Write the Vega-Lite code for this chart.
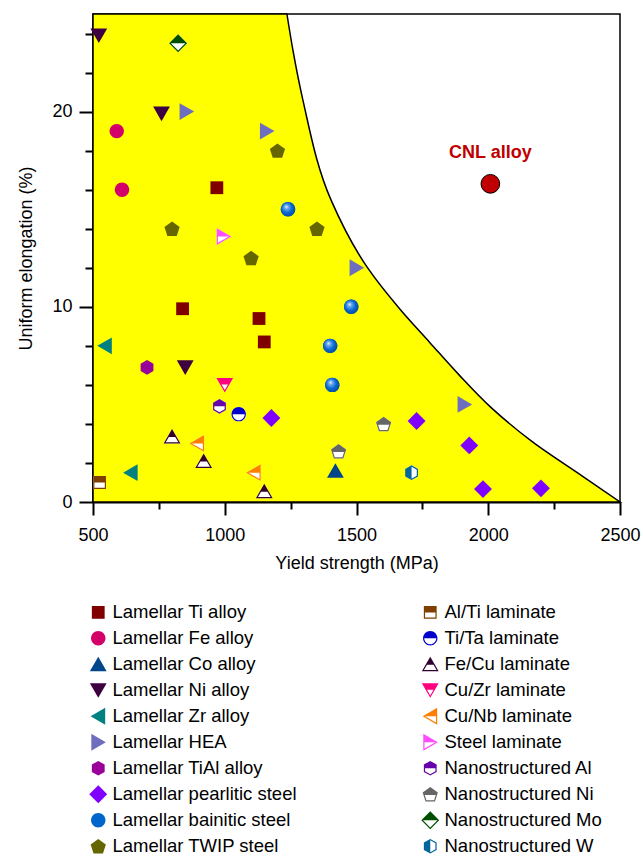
{
  "$schema": "https://vega.github.io/schema/vega-lite/v6.json",
  "width": 527,
  "height": 488,
  "autosize": {"type": "none"},
  "padding": {"left": 93, "top": 14, "right": 23, "bottom": 354},
  "background": "white",
  "config": {
    "font": "Liberation Sans",
    "view": {"stroke": "black", "strokeWidth": 1.5},
    "axis": {
      "domainColor": "black", "domainWidth": 2, "tickColor": "black", "tickWidth": 2,
      "labelColor": "black", "titleColor": "black", "labelFontSize": 18, "titleFontSize": 18,
      "titleFontWeight": "normal", "grid": false, "labelFlush": false
    }
  },
  "datasets": {
    "curve": [
      {"x": 1236, "y": 25}, {"x": 1259, "y": 23.12}, {"x": 1297, "y": 20.56},
      {"x": 1404, "y": 15.45}, {"x": 1543, "y": 11.98}, {"x": 1670, "y": 9.8},
      {"x": 1777, "y": 8.19}, {"x": 1890, "y": 6.5}, {"x": 2010, "y": 4.85},
      {"x": 2168, "y": 3.08}, {"x": 2357, "y": 1.33}, {"x": 2500, "y": 0}
    ],
    "points": [
      {"series": "Lamellar Ti alloy", "x": 970, "y": 16.1},
      {"series": "Lamellar Ti alloy", "x": 840, "y": 9.9},
      {"series": "Lamellar Ti alloy", "x": 1130, "y": 9.4},
      {"series": "Lamellar Ti alloy", "x": 1150, "y": 8.2},
      {"series": "Lamellar Fe alloy", "x": 590, "y": 19},
      {"series": "Lamellar Fe alloy", "x": 610, "y": 16},
      {"series": "Lamellar Co alloy", "x": 1420, "y": 1.6},
      {"series": "Lamellar Ni alloy", "x": 522, "y": 23.9},
      {"series": "Lamellar Ni alloy", "x": 760, "y": 19.9},
      {"series": "Lamellar Ni alloy", "x": 850, "y": 6.9},
      {"series": "Lamellar Zr alloy", "x": 545, "y": 8},
      {"series": "Lamellar Zr alloy", "x": 643, "y": 1.5},
      {"series": "Lamellar HEA", "x": 855, "y": 20},
      {"series": "Lamellar HEA", "x": 1160, "y": 19},
      {"series": "Lamellar HEA", "x": 1500, "y": 12},
      {"series": "Lamellar HEA", "x": 1910, "y": 5},
      {"series": "Lamellar TiAl alloy", "x": 705, "y": 6.9},
      {"series": "Lamellar pearlitic steel", "x": 1177, "y": 4.3},
      {"series": "Lamellar pearlitic steel", "x": 1728, "y": 4.15},
      {"series": "Lamellar pearlitic steel", "x": 1928, "y": 2.9},
      {"series": "Lamellar pearlitic steel", "x": 1980, "y": 0.66},
      {"series": "Lamellar pearlitic steel", "x": 2200, "y": 0.7},
      {"series": "Lamellar bainitic steel", "x": 1240, "y": 15},
      {"series": "Lamellar bainitic steel", "x": 1480, "y": 10},
      {"series": "Lamellar bainitic steel", "x": 1400, "y": 8},
      {"series": "Lamellar bainitic steel", "x": 1408, "y": 6},
      {"series": "Lamellar TWIP steel", "x": 1200, "y": 18},
      {"series": "Lamellar TWIP steel", "x": 800, "y": 14},
      {"series": "Lamellar TWIP steel", "x": 1100, "y": 12.5},
      {"series": "Lamellar TWIP steel", "x": 1350, "y": 14},
      {"series": "Al/Ti laminate", "x": 525, "y": 1},
      {"series": "Ti/Ta laminate", "x": 1053, "y": 4.5},
      {"series": "Fe/Cu laminate", "x": 800, "y": 3.35},
      {"series": "Fe/Cu laminate", "x": 920, "y": 2.1},
      {"series": "Fe/Cu laminate", "x": 1150, "y": 0.55},
      {"series": "Cu/Zr laminate", "x": 1000, "y": 6},
      {"series": "Cu/Nb laminate", "x": 895, "y": 3},
      {"series": "Cu/Nb laminate", "x": 1110, "y": 1.5},
      {"series": "Steel laminate", "x": 996, "y": 13.6},
      {"series": "Nanostructured Al", "x": 980, "y": 4.9},
      {"series": "Nanostructured Ni", "x": 1603, "y": 4},
      {"series": "Nanostructured Ni", "x": 1432, "y": 2.6},
      {"series": "Nanostructured Mo", "x": 823, "y": 23.5},
      {"series": "Nanostructured W", "x": 1709, "y": 1.5}
    ],
    "cnl": [{"x": 2008, "y": 16.3, "label": "CNL alloy"}]
  },
  "encoding": {
    "x": {
      "field": "x", "type": "quantitative",
      "scale": {"domain": [500, 2500], "nice": false, "zero": false},
      "axis": {
        "title": "Yield strength (MPa)",
        "values": [500, 750, 1000, 1250, 1500, 1750, 2000, 2250, 2500],
        "labelExpr": "datum.value % 500 === 0 ? datum.label : ''",
        "tickSize": {"condition": {"test": "datum.value % 500 === 0", "value": 13}, "value": 7},
        "labelPadding": 11, "titlePadding": 10, "format": "d"
      }
    },
    "y": {
      "field": "y", "type": "quantitative",
      "scale": {"domain": [0, 25], "nice": false},
      "axis": {
        "title": "Uniform elongation (%)",
        "values": [0, 2, 4, 6, 8, 10, 12, 14, 16, 18, 20, 22, 24],
        "labelExpr": "datum.value % 10 === 0 ? datum.label : ''",
        "tickSize": {"condition": {"test": "datum.value % 10 === 0", "value": 14}, "value": 8},
        "labelPadding": 7, "titlePadding": 16
      }
    }
  },
  "layer": [
    {
      "data": {"name": "curve"},
      "mark": {"type": "area", "orient": "horizontal", "interpolate": "monotone", "fill": "#ffff00", "stroke": "black", "strokeWidth": 1.5, "opacity": 1},
      "encoding": {"x2": {"datum": 500}}
    },
    {
      "data": {"name": "points"},
      "transform": [{"filter": "datum.series === 'Al/Ti laminate'"}],
      "mark": {"type": "point", "filled": true, "color": "white", "opacity": 1, "size": 256, "strokeWidth": 0, "shape": "M-0.8,-0.8L0.8,-0.8L0.8,0.8L-0.8,0.8Z"}
    },
    {
      "data": {"name": "points"},
      "transform": [{"filter": "datum.series === 'Ti/Ta laminate'"}],
      "mark": {"type": "point", "filled": true, "color": "white", "opacity": 1, "size": 256, "strokeWidth": 0, "shape": "M0,-0.9A0.9,0.9,0,1,1,0,0.9A0.9,0.9,0,1,1,0,-0.9Z"}
    },
    {
      "data": {"name": "points"},
      "transform": [{"filter": "datum.series === 'Fe/Cu laminate'"}],
      "mark": {"type": "point", "filled": true, "color": "white", "opacity": 1, "size": 256, "strokeWidth": 0, "shape": "M0,-0.95L1.05,0.87L-1.05,0.87Z"}
    },
    {
      "data": {"name": "points"},
      "transform": [{"filter": "datum.series === 'Cu/Zr laminate'"}],
      "mark": {"type": "point", "filled": true, "color": "white", "opacity": 1, "size": 256, "strokeWidth": 0, "shape": "M-1.05,-0.87L1.05,-0.87L0,0.95Z"}
    },
    {
      "data": {"name": "points"},
      "transform": [{"filter": "datum.series === 'Cu/Nb laminate'"}],
      "mark": {"type": "point", "filled": true, "color": "white", "opacity": 1, "size": 256, "strokeWidth": 0, "shape": "M-0.95,0L0.87,-1.05L0.87,1.05Z"}
    },
    {
      "data": {"name": "points"},
      "transform": [{"filter": "datum.series === 'Steel laminate'"}],
      "mark": {"type": "point", "filled": true, "color": "white", "opacity": 1, "size": 256, "strokeWidth": 0, "shape": "M0.95,0L-0.87,1.05L-0.87,-1.05Z"}
    },
    {
      "data": {"name": "points"},
      "transform": [{"filter": "datum.series === 'Nanostructured Al' || datum.series === 'Nanostructured W'"}],
      "mark": {"type": "point", "filled": true, "color": "white", "opacity": 1, "size": 256, "strokeWidth": 0, "shape": "M0,-0.92L0.8,-0.46L0.8,0.46L0,0.92L-0.8,0.46L-0.8,-0.46Z"}
    },
    {
      "data": {"name": "points"},
      "transform": [{"filter": "datum.series === 'Nanostructured Ni'"}],
      "mark": {"type": "point", "filled": true, "color": "white", "opacity": 1, "size": 256, "strokeWidth": 0, "shape": "M0,-0.905L0.951,-0.214L0.588,0.904L-0.588,0.904L-0.951,-0.214Z"}
    },
    {
      "data": {"name": "points"},
      "transform": [{"filter": "datum.series === 'Nanostructured Mo'"}],
      "mark": {"type": "point", "filled": true, "color": "white", "opacity": 1, "size": 256, "strokeWidth": 0, "shape": "M0,-1.12L1.12,0L0,1.12L-1.12,0Z"}
    },
    {
      "data": {"name": "points"},
      "mark": {"type": "point", "filled": true, "opacity": 1, "size": 256, "strokeWidth": 0},
      "encoding": {
        "color": {
          "field": "series", "type": "nominal",
          "scale": {
            "domain": ["Lamellar Ti alloy", "Lamellar Fe alloy", "Lamellar Co alloy", "Lamellar Ni alloy", "Lamellar Zr alloy", "Lamellar HEA", "Lamellar TiAl alloy", "Lamellar pearlitic steel", "Lamellar bainitic steel", "Lamellar TWIP steel", "Al/Ti laminate", "Ti/Ta laminate", "Fe/Cu laminate", "Cu/Zr laminate", "Cu/Nb laminate", "Steel laminate", "Nanostructured Al", "Nanostructured Ni", "Nanostructured Mo", "Nanostructured W"],
            "range": ["#800000", "#d4006a", "#00468b", "#3d0040", "#008080", "#6e6ebe", "#990099", "#8000ff", "#0066cc", "#666600", "#7f3f00", "#0000cc", "#33002e", "#ff007f", "#ff8000", "#ff4dff", "#6600a8", "#666666", "#004f00", "#006699"]
          },
          "legend": {
            "title": null, "orient": "none", "legendX": -4, "legendY": 589, "columns": 2,
            "padding": 0, "labelFontSize": 18.5, "labelFont": "Liberation Sans", "labelColor": "black",
            "symbolSize": 256, "labelOffset": 5, "rowPadding": 7, "columnPadding": 124,
            "labelLimit": 400, "symbolStrokeWidth": 0, "symbolOpacity": 1,
            "encode": {
              "symbols": {
                "update": {
                  "fill": [
                    {"test": "datum.value === 'Lamellar bainitic steel'", "value": {"gradient": "radial", "x1": 0.38, "y1": 0.32, "r1": 0, "x2": 0.45, "y2": 0.45, "r2": 0.6, "stops": [{"offset": 0, "color": "#ffffff"}, {"offset": 0.22, "color": "#6aaaf0"}, {"offset": 0.6, "color": "#0a66d0"}, {"offset": 1, "color": "#004c9e"}]}},
                    {"scale": "color", "field": "value"}
                  ]
                }
              }
            }
          }
        },
        "shape": {
          "field": "series", "type": "nominal",
          "scale": {
            "domain": ["Lamellar Ti alloy", "Lamellar Fe alloy", "Lamellar Co alloy", "Lamellar Ni alloy", "Lamellar Zr alloy", "Lamellar HEA", "Lamellar TiAl alloy", "Lamellar pearlitic steel", "Lamellar bainitic steel", "Lamellar TWIP steel", "Al/Ti laminate", "Ti/Ta laminate", "Fe/Cu laminate", "Cu/Zr laminate", "Cu/Nb laminate", "Steel laminate", "Nanostructured Al", "Nanostructured Ni", "Nanostructured Mo", "Nanostructured W"],
            "range": [
              "M-0.8,-0.8L0.8,-0.8L0.8,0.8L-0.8,0.8Z",
              "M0,-0.9A0.9,0.9,0,1,1,0,0.9A0.9,0.9,0,1,1,0,-0.9Z",
              "M0,-0.95L1.05,0.87L-1.05,0.87Z",
              "M-1.05,-0.87L1.05,-0.87L0,0.95Z",
              "M-0.95,0L0.87,-1.05L0.87,1.05Z",
              "M0.95,0L-0.87,1.05L-0.87,-1.05Z",
              "M0,-0.92L0.8,-0.46L0.8,0.46L0,0.92L-0.8,0.46L-0.8,-0.46Z",
              "M0,-1.12L1.12,0L0,1.12L-1.12,0Z",
              "M0,-0.9A0.9,0.9,0,1,1,0,0.9A0.9,0.9,0,1,1,0,-0.9Z",
              "M0,-0.905L0.951,-0.214L0.588,0.904L-0.588,0.904L-0.951,-0.214Z",
              "M-0.8,-0.8L0.8,-0.8L0.8,0.8L-0.8,0.8ZM-0.65,0L-0.65,0.65L0.65,0.65L0.65,0Z",
              "M0,-0.9A0.9,0.9,0,1,1,0,0.9A0.9,0.9,0,1,1,0,-0.9ZM-0.75,0A0.75,0.75,0,0,0,0.75,0Z",
              "M0,-0.95L1.05,0.87L-1.05,0.87ZM-0.403,0.05L-0.79,0.72L0.79,0.72L0.403,0.05Z",
              "M-1.05,-0.87L1.05,-0.87L0,0.95ZM-0.403,-0.05L0,0.647L0.403,-0.05Z",
              "M-0.95,0L0.87,-1.05L0.87,1.05ZM-0.647,0L0.72,0.79L0.72,0Z",
              "M0.95,0L-0.87,1.05L-0.87,-1.05ZM0.647,0L-0.72,0L-0.72,0.79Z",
              "M0,-0.92L0.8,-0.46L0.8,0.46L0,0.92L-0.8,0.46L-0.8,-0.46ZM-0.647,0L-0.647,0.374L0,0.747L0.647,0.374L0.647,0Z",
              "M0,-0.905L0.951,-0.214L0.588,0.904L-0.588,0.904L-0.951,-0.214ZM-0.69,0.1L-0.479,0.754L0.479,0.754L0.69,0.1Z",
              "M0,-1.12L1.12,0L0,1.12L-1.12,0ZM-0.908,0L0,0.908L0.908,0Z",
              "M0,-0.92L0.8,-0.46L0.8,0.46L0,0.92L-0.8,0.46L-0.8,-0.46ZM0,-0.747L0,0.747L0.647,0.374L0.647,-0.374Z"
            ]
          }
        }
      }
    },
    {
      "data": {"name": "points"},
      "transform": [{"filter": "datum.series === 'Lamellar bainitic steel'"}],
      "mark": {
        "type": "point", "filled": true, "opacity": 1, "size": 256, "strokeWidth": 0,
        "shape": "M0,-0.9A0.9,0.9,0,1,1,0,0.9A0.9,0.9,0,1,1,0,-0.9Z",
        "fill": {"gradient": "radial", "x1": 0.38, "y1": 0.32, "r1": 0, "x2": 0.45, "y2": 0.45, "r2": 0.6, "stops": [{"offset": 0, "color": "#ffffff"}, {"offset": 0.22, "color": "#6aaaf0"}, {"offset": 0.6, "color": "#0a66d0"}, {"offset": 1, "color": "#004c9e"}]}
      }
    },
    {
      "data": {"name": "cnl"},
      "mark": {"type": "point", "filled": true, "shape": "circle", "size": 350, "fill": "#c00000", "stroke": "black", "strokeWidth": 1, "opacity": 1}
    },
    {
      "data": {"name": "cnl"},
      "mark": {"type": "text", "fontSize": 18, "fontWeight": "bold", "color": "#c00000", "dy": -31, "baseline": "middle", "align": "center"},
      "encoding": {"text": {"field": "label"}}
    }
  ]
}
